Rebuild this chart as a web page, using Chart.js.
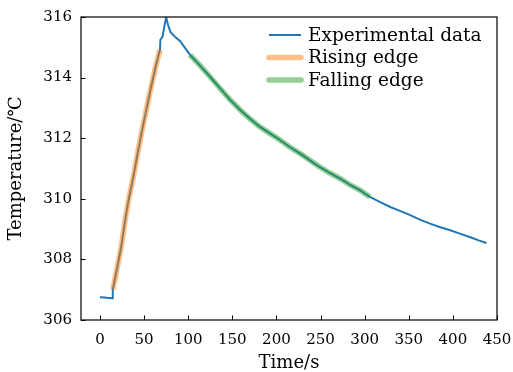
<!DOCTYPE html>
<html lang="en">
<head>
<meta charset="UTF-8">
<title>Temperature vs time</title>
<script src="https://cdn.jsdelivr.net/npm/chart.js"></script>
<style>
  html, body { margin: 0; padding: 0; background: #fff; }
  #wrap { width: 513px; height: 372px; }
</style>
</head>
<body>
<div id="wrap"><canvas id="tempChart" width="513" height="372"></canvas></div>
<script>
const timeS = [0, 5, 10, 14, 14.5, 19, 24, 28, 32, 38, 43, 48, 53, 58, 63, 68, 68.5, 71, 73, 75,
  77, 80, 85, 91, 96, 102, 113, 125, 136, 147, 159, 170, 181, 193, 204, 215, 227, 238, 249,
  260, 272, 283, 295, 306, 317, 329, 340, 351, 362, 374, 385, 397, 408, 419, 430, 438];
const tempC = [306.75, 306.74, 306.73, 306.72, 307.0, 307.65, 308.4, 309.2, 309.9, 310.75, 311.55,
  312.3, 313.0, 313.7, 314.35, 314.92, 315.25, 315.35, 315.7, 316.0,
  315.75, 315.5, 315.35, 315.2, 315.0, 314.75, 314.41, 314.02, 313.65, 313.28, 312.93, 312.64,
  312.38, 312.15, 311.94, 311.71, 311.49, 311.27, 311.05, 310.86, 310.67, 310.47, 310.28, 310.06,
  309.9, 309.73, 309.6, 309.47, 309.32, 309.18, 309.07, 308.96, 308.85, 308.74, 308.62, 308.54];

// time windows of the two highlighted edges
const risingWindow = [14.5, 68];
const fallingWindow = [102, 306];

const seriesLabels = ['Experimental data', 'Rising edge', 'Falling edge'];
const xTicks = [0, 50, 100, 150, 200, 250, 300, 350, 400, 450];
const yTicks = [306, 308, 310, 312, 314, 316];

const points = timeS.map((t, i) => ({ x: t, y: tempC[i] }));
const inWindow = (w) => points.filter(p => p.x >= w[0] && p.x <= w[1]);

const serif = '"DejaVu Serif", serif';

// inward ticks + full box, matplotlib style
const frameTicks = {
  id: 'frameTicks',
  afterDatasetsDraw(chart) {
    const { ctx, chartArea: a, scales } = chart;
    ctx.save();
    ctx.strokeStyle = '#000';
    ctx.lineWidth = 1;
    scales.x.ticks.forEach(t => {
      const px = Math.round(scales.x.getPixelForValue(t.value)) + 0.5;
      ctx.beginPath();
      ctx.moveTo(px, a.bottom);
      ctx.lineTo(px, a.bottom - 4.5);
      ctx.stroke();
    });
    scales.y.ticks.forEach(t => {
      const py = Math.round(scales.y.getPixelForValue(t.value)) + 0.5;
      ctx.beginPath();
      ctx.moveTo(a.left, py);
      ctx.lineTo(a.left + 4.5, py);
      ctx.stroke();
    });
    ctx.lineWidth = 1.2;
    ctx.strokeRect(a.left, a.top, a.right - a.left, a.bottom - a.top);
    ctx.restore();
  }
};

// legend without frame, top right inside the axes
const cornerLegend = {
  id: 'cornerLegend',
  afterDraw(chart) {
    const { ctx, chartArea: a } = chart;
    ctx.save();
    ctx.font = '18.5px ' + serif;
    ctx.textBaseline = 'middle';
    ctx.fillStyle = '#000';
    chart.data.datasets.forEach((ds, i) => {
      const y = a.top + 18 + i * 22.5;
      const x0 = a.right - 228;
      ctx.strokeStyle = ds.borderColor;
      ctx.lineWidth = ds.borderWidth;
      ctx.lineCap = i === 0 ? 'butt' : 'round';
      ctx.beginPath();
      ctx.moveTo(x0, y);
      ctx.lineTo(x0 + 32, y);
      ctx.stroke();
      ctx.fillText(ds.label, x0 + 39, y + 1);
    });
    ctx.restore();
  }
};

new Chart(document.getElementById('tempChart'), {
  type: 'line',
  data: {
    datasets: [
      { label: seriesLabels[0], data: points, borderColor: '#1f77b4', borderWidth: 2, order: 2 },
      { label: seriesLabels[1], data: inWindow(risingWindow), borderColor: 'rgba(255,127,14,0.5)', borderWidth: 5.5, order: 1 },
      { label: seriesLabels[2], data: inWindow(fallingWindow), borderColor: 'rgba(44,160,44,0.5)', borderWidth: 5.5, order: 1 }
    ]
  },
  options: {
    responsive: false,
    animation: false,
    events: [],
    elements: { point: { radius: 0 }, line: { tension: 0 } },
    layout: { padding: { left: 0, right: 16, top: 17, bottom: 0 } },
    plugins: { legend: { display: false }, tooltip: { enabled: false } },
    scales: {
      x: {
        type: 'linear',
        min: -21.5,
        max: 450,
        afterBuildTicks: s => { s.ticks = xTicks.map(v => ({ value: v })); },
        afterFit: s => { s.height = 52; s.paddingLeft = 0; s.paddingRight = 0; },
        grid: { display: false, drawTicks: false },
        border: { display: false },
        ticks: { color: '#000', padding: 11, font: { family: serif, size: 15 } },
        title: { display: true, text: 'Time/s', color: '#000', padding: { top: 0, bottom: 0 },
                 font: { family: serif, size: 18, lineHeight: 1 } }
      },
      y: {
        min: 306,
        max: 316,
        afterBuildTicks: s => { s.ticks = yTicks.map(v => ({ value: v })); },
        afterFit: s => { s.width = 81; s.paddingTop = 0; s.paddingBottom = 0; },
        grid: { display: false, drawTicks: false },
        border: { display: false },
        ticks: { color: '#000', padding: 9, font: { family: serif, size: 15 } },
        title: { display: true, text: 'Temperature/℃', color: '#000', padding: { top: 6, bottom: 0 },
                 font: { family: serif, size: 18 } }
      }
    }
  },
  plugins: [frameTicks, cornerLegend]
});
</script>
</body>
</html>
